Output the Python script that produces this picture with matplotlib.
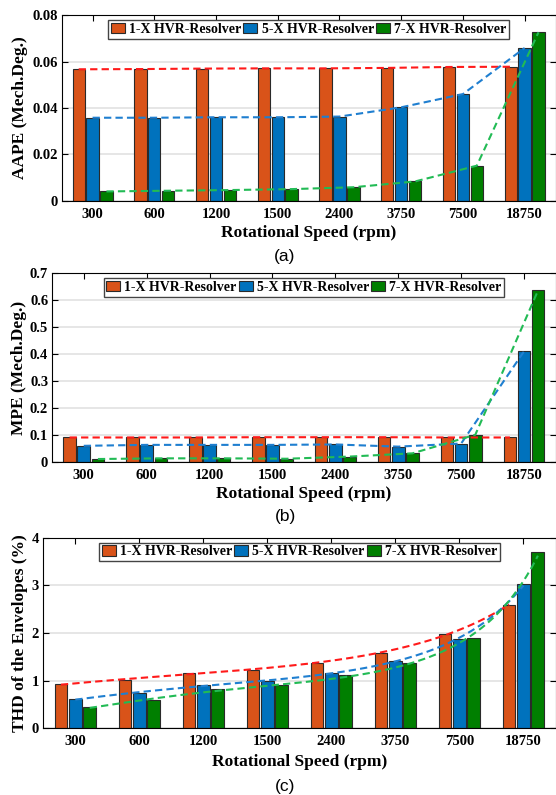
import numpy as np
import matplotlib
matplotlib.use('Agg')
from matplotlib import pyplot as plt

# categories
speeds = ['300', '600', '1200', '1500', '2400', '3750', '7500', '18750']
series = ['1-X HVR-Resolver', '5-X HVR-Resolver', '7-X HVR-Resolver']

# (a) AAPE (Mech.Deg.)
aape_1x = [0.0567, 0.0568, 0.0570, 0.0571, 0.0571, 0.0573, 0.0577, 0.0578]
aape_5x = [0.0358, 0.0358, 0.0360, 0.0360, 0.0363, 0.0403, 0.0460, 0.0659]
aape_7x = [0.0040, 0.0043, 0.0046, 0.0050, 0.0058, 0.0083, 0.0151, 0.0727]

# (b) MPE (Mech.Deg.)
mpe_1x = [0.090, 0.090, 0.090, 0.091, 0.091, 0.091, 0.090, 0.090]
mpe_5x = [0.059, 0.0625, 0.0625, 0.0625, 0.064, 0.056, 0.0675, 0.410]
mpe_7x = [0.010, 0.0125, 0.0125, 0.011, 0.019, 0.031, 0.100, 0.6375]

# (c) THD of the envelopes (%)
thd_1x = [0.92, 1.01, 1.17, 1.22, 1.38, 1.585, 1.97, 2.59]
thd_5x = [0.607, 0.74, 0.91, 0.99, 1.17, 1.41, 1.87, 3.02]
thd_7x = [0.44, 0.586, 0.817, 0.91, 1.12, 1.36, 1.89, 3.71]

aape_ticks = [0, 0.02, 0.04, 0.06, 0.08]
aape_ticklabels = ['0', '0.02', '0.04', '0.06', '0.08']
mpe_ticks = [0, 0.1, 0.2, 0.3, 0.4, 0.5, 0.6, 0.7]
mpe_ticklabels = ['0', '0.1', '0.2', '0.3', '0.4', '0.5', '0.6', '0.7']
thd_ticks = [0, 1, 2, 3, 4]
thd_ticklabels = ['0', '1', '2', '3', '4']

bar_colors = ['#D95319', '#0072BD', '#007F00']
line_colors = ['#FF1A1A', '#1F7FD0', '#22BB55']

plt.rcParams['font.family'] = 'Liberation Serif'
plt.rcParams['font.weight'] = 'bold'
plt.rcParams['axes.labelweight'] = 'bold'

W, H = 556, 795
fig = plt.figure(figsize=(W / 100, H / 100), dpi=100)


def px_axes(left, top, bottom):
    # pixel box -> figure fraction
    return fig.add_axes([left / W, 1 - bottom / H, (W - 0.5 - left) / W, (bottom - top) / H])


def draw_panel(ax, data, ticks, ticklabels, ylabel, smooth=False):
    x = np.arange(len(speeds))
    offs = [-0.225, 0.0, 0.225]
    for k in range(3):
        ax.bar(x + offs[k], data[k], 0.2, color=bar_colors[k], edgecolor='#2a2a2a',
               linewidth=0.8, label=series[k], zorder=2)
    for k in range(3):
        xk = x + offs[k]
        if smooth:
            # exponential-type trend: cubic fit of log values
            c = np.polyfit(xk, np.log(data[k]), 3)
            xs = np.linspace(xk[0], xk[-1], 200)
            ax.plot(xs, np.exp(np.polyval(c, xs)), ls=(0, (3.5, 2)), color=line_colors[k], lw=1.5, zorder=3)
        else:
            ax.plot(xk, data[k], ls=(0, (3.5, 2)), color=line_colors[k], lw=1.5, zorder=3)

    ax.set_xlim(-0.5, 7.5)
    ax.set_ylim(ticks[0], ticks[-1])
    ax.set_xticks(x)
    ax.set_xticklabels(speeds)
    ax.set_yticks(ticks)
    ax.set_yticklabels(ticklabels)
    ax.tick_params(direction='in', length=4, width=0.8, top=True, right=True,
                   labelsize=10.5)
    ax.tick_params(axis='x', pad=5)
    ax.tick_params(axis='y', pad=3)
    ax.yaxis.grid(True, color='#e2e2e2', lw=1.2, zorder=0)
    ax.set_axisbelow(True)
    for s in ax.spines.values():
        s.set_linewidth(0.8)
    ax.set_ylabel(ylabel, fontsize=12.5, va='center')
    ax.set_xlabel('Rotational Speed (rpm)', fontsize=12.5, va='center')
    leg = ax.legend(loc='upper center', ncol=3, fontsize=10, frameon=True, fancybox=False,
                    handlelength=1.0, handleheight=0.75, handletextpad=0.3, columnspacing=0.15,
                    borderpad=0.2, borderaxespad=0.35, edgecolor='#444444', framealpha=1)
    leg.get_frame().set_linewidth(1.0)


# panel pixel boxes: left, top, bottom
ax_a = px_axes(61.7, 15.3, 200.7)
ax_b = px_axes(52.3, 273.3, 461.7)
ax_c = px_axes(43.3, 537.7, 728.3)

draw_panel(ax_a, [aape_1x, aape_5x, aape_7x], aape_ticks, aape_ticklabels, 'AAPE (Mech.Deg.)')
draw_panel(ax_b, [mpe_1x, mpe_5x, mpe_7x], mpe_ticks, mpe_ticklabels, 'MPE (Mech.Deg.)')
draw_panel(ax_c, [thd_1x, thd_5x, thd_7x], thd_ticks, thd_ticklabels, 'THD of the Envelopes (%)', smooth=True)

# label placement (pixel positions from the reference)
for ax, (top, bottom), xlab_y, ylab_x, cap_y, cap in [
        (ax_a, (15.3, 200.7), 232.7, 20, 256.7, '(a)'),
        (ax_b, (273.3, 461.7), 494, 19, 517, '(b)'),
        (ax_c, (537.7, 728.3), 762, 20, 786, '(c)')]:
    h = bottom - top
    ax.xaxis.set_label_coords(0.5, (bottom - xlab_y) / h)
    left_px = ax.get_position().x0 * W
    width_px = ax.get_position().width * W
    ax.yaxis.set_label_coords((ylab_x - left_px) / width_px, 0.5)
    fig.text(285 / W, 1 - cap_y / H, cap, fontsize=12.5, family='Liberation Sans',
             weight='normal', ha='center', va='center')

fig.savefig('out.png', dpi=100)
